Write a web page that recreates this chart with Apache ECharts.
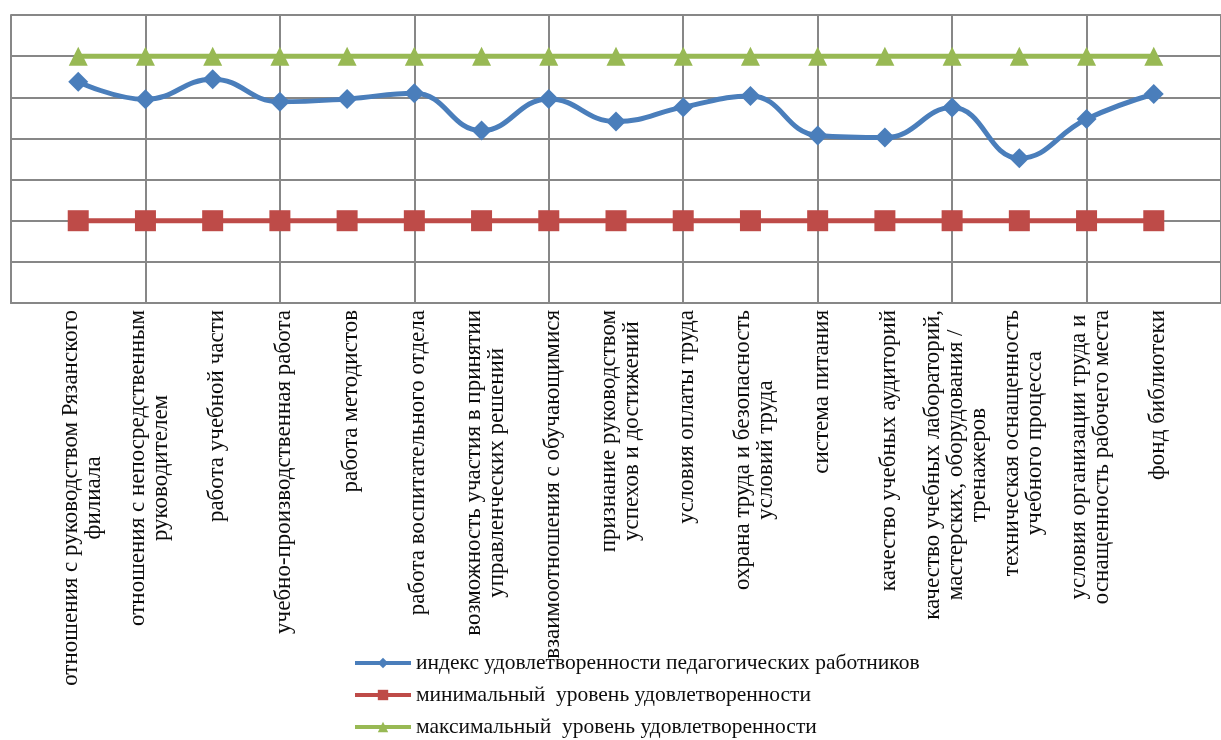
<!DOCTYPE html>
<html>
<head>
<meta charset="utf-8">
<script src="https://cdn.jsdelivr.net/npm/echarts@6/dist/echarts.min.js"></script>
<style>
html,body{margin:0;padding:0;background:#fff;}
#chart{width:1221px;height:740px;}
</style>
</head>
<body>
<div id="chart"></div>
<script>
const categories = [
  "отношения с руководством Рязанского\nфилиала",
  "отношения с непосредственным\nруководителем",
  "работа учебной части",
  "учебно-производственная работа",
  "работа методистов",
  "работа воспитательного отдела",
  "возможность участия в принятии\nуправленческих решений",
  "взаимоотношения с обучающимися",
  "признание руководством\nуспехов и достижений",
  "условия оплаты труда",
  "охрана труда и безопасность\nусловий труда",
  "система питания",
  "качество учебных аудиторий",
  "качество учебных лабораторий,\nмастерских, оборудования /\nтренажеров",
  "техническая оснащенность\nучебного процесса",
  "условия организации труда и\nоснащенность рабочего места",
  "фонд библиотеки"
];
const indexValues = [5.38, 4.95, 5.44, 4.89, 4.96, 5.10, 4.19, 4.96, 4.41, 4.76, 5.03, 4.07, 4.02, 4.75, 3.52, 4.47, 5.08];
const minValues = [2, 2, 2, 2, 2, 2, 2, 2, 2, 2, 2, 2, 2, 2, 2, 2, 2];
const maxValues = [6, 6, 6, 6, 6, 6, 6, 6, 6, 6, 6, 6, 6, 6, 6, 6, 6];
const seriesNames = [
  "индекс удовлетворенности педагогических работников",
  "минимальный  уровень удовлетворенности",
  "максимальный  уровень удовлетворенности"
];

// axis padded with an empty slot at each end (the plot runs one step beyond the first and last point)
const axisData = [""].concat(categories, [""]);
const pad = arr => [null].concat(arr, [null]);

const FONT = "'Liberation Serif', 'Times New Roman', serif";
const GRID_COLOR = "#878787";
const TEXT = '#0d0d0d';

const chart = echarts.init(document.getElementById('chart'), null, {renderer: 'canvas'});
chart.setOption({
  animation: false,
  backgroundColor: '#ffffff',
  grid: {left: 11, right: -13, top: 15, bottom: 437, containLabel: false},
  legend: {
    orient: 'vertical',
    left: 353,
    top: 652,
    height: 120,
    padding: 0,
    itemWidth: 56,
    itemHeight: 13,
    itemGap: 10,
    lineStyle: {width: 4},
    textStyle: {fontFamily: FONT, fontSize: 21.5, color: TEXT},
    data: seriesNames
  },
  xAxis: {
    type: 'category',
    data: axisData,
    boundaryGap: false,
    axisLine: {show: true, lineStyle: {color: GRID_COLOR, width: 2}},
    axisTick: {show: false},
    splitLine: {show: true, interval: 1, lineStyle: {color: GRID_COLOR, width: 2}},
    axisLabel: {
      interval: 0,
      rotate: 90,
      margin: 7,
      padding: [8, 0, 0, 0],
      color: TEXT,
      fontFamily: FONT,
      fontSize: 23,
      lineHeight: 23,
      formatter: v => v ? v.split('\n').map(l => '{c|' + l + '}').join('\n') : '',
      rich: {c: {align: 'center', fontFamily: FONT, fontSize: 23, lineHeight: 23, color: TEXT}}
    }
  },
  yAxis: {
    type: 'value',
    min: 0, max: 7, interval: 1,
    axisLine: {show: true, lineStyle: {color: GRID_COLOR, width: 2}},
    axisTick: {show: false},
    axisLabel: {show: false},
    splitLine: {show: true, lineStyle: {color: GRID_COLOR, width: 2}}
  },
  series: [
    {
      name: seriesNames[0], type: 'line', data: pad(indexValues),
      smooth: 0.45,
      symbol: 'diamond', symbolSize: [20, 20],
      lineStyle: {color: '#4A7EBB', width: 5},
      itemStyle: {color: '#4A7EBB'},
      z: 4
    },
    {
      name: seriesNames[1], type: 'line', data: pad(minValues),
      symbol: 'rect', symbolSize: 21,
      lineStyle: {color: '#BE4B48', width: 5},
      itemStyle: {color: '#BE4B48'},
      z: 3
    },
    {
      name: seriesNames[2], type: 'line', data: pad(maxValues),
      symbol: 'triangle', symbolSize: [19, 19],
      lineStyle: {color: '#98B954', width: 5},
      itemStyle: {color: '#98B954'},
      z: 3
    }
  ]
});
</script>
</body>
</html>
